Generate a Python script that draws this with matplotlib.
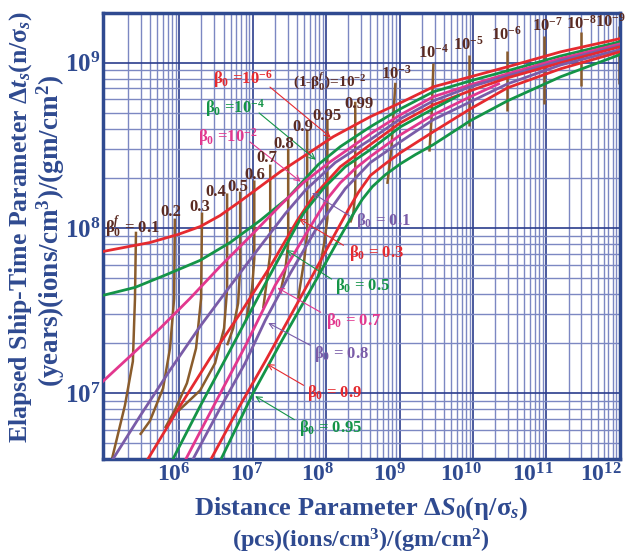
import numpy as np
import matplotlib
matplotlib.use("Agg")
import matplotlib.pyplot as plt
from matplotlib.ticker import LogLocator, NullFormatter
from matplotlib.transforms import offset_copy

plt.rcParams['font.family'] = ['Liberation Serif', 'DejaVu Serif']
plt.rcParams['font.weight'] = 'bold'
plt.rcParams['mathtext.fontset'] = 'custom'
plt.rcParams['mathtext.rm'] = 'Liberation Serif:bold'
plt.rcParams['mathtext.it'] = 'Liberation Serif:bold:italic'
plt.rcParams['mathtext.bf'] = 'Liberation Serif:bold'

NAVY = '#2f4a90'
RED = '#e52a2f'
GREEN = '#149447'
PINK = '#e2378e'
PURPLE = '#7a5ca8'
BROWN = '#8a5c2c'
DARKBROWN = '#5b2b22'

# ---- beta_0 curves: distance parameter vs ship-time parameter ----
ds_b1e6 = [9.1e4, 3.98e5, 9.6e5, 1.92e6, 3.59e6, 6.74e6, 1.26e7, 2.37e7, 4.43e7, 1.25e8,
           4.0e8, 1.03e9, 2.89e9, 9.25e9, 2.96e10, 1.56e11, 1e12]
dt_b1e6 = [7.21e7, 8.17e7, 9.14e7, 1.02e8, 1.19e8, 1.45e8, 1.78e8, 2.19e8, 2.63e8, 3.57e8,
           4.72e8, 5.73e8, 7.16e8, 8.23e8, 9.46e8, 1.165e9, 1.40e9]

ds_b1e4 = [9.1e4, 2.49e5, 6.8e5, 1.92e6, 4.92e6, 1.26e7, 2.95e7, 7.8e7, 1.56e8, 4.0e8,
           1.03e9, 2.89e9, 9.25e9, 2.96e10, 1.56e11, 1e12]
dt_b1e4 = [3.91e7, 4.37e7, 5.24e7, 6.37e7, 8.17e7, 1.11e8, 1.51e8, 2.42e8, 3.11e8, 4.10e8,
           5.27e8, 6.68e8, 7.78e8, 8.95e8, 1.10e9, 1.34e9]

ds_b1e2 = [9.1e4, 2.12e5, 5.46e5, 1.40e6, 3.59e6, 9.2e6, 2.37e7, 4.87e7, 1.14e8, 4.0e8,
           1.03e9, 2.89e9, 9.25e9, 2.96e10, 1.56e11, 1e12]
dt_b1e2 = [1.18e7, 1.67e7, 2.47e7, 3.75e7, 5.85e7, 8.89e7, 1.37e8, 1.88e8, 2.52e8, 3.72e8,
           4.85e8, 6.24e8, 7.36e8, 8.58e8, 1.06e9, 1.30e9]

ds_b01 = [1.25e5, 2.91e5, 7.47e5, 1.92e6, 4.92e6, 1.26e7, 2.77e7, 5.19e7, 1.33e8, 4.0e8,
          1.03e9, 2.89e9, 9.25e9, 2.96e10, 1.56e11, 1e12]
dt_b01 = [4.0e6, 7.26e6, 1.38e7, 2.54e7, 4.45e7, 7.73e7, 1.22e8, 1.69e8, 2.49e8, 3.43e8,
          4.59e8, 5.89e8, 7.16e8, 8.34e8, 1.03e9, 1.27e9]

ds_b03 = [3.74e5, 1.02e6, 2.62e6, 6.74e6, 1.73e7, 4.03e7, 6.67e7, 1.56e8, 4.0e8, 1.03e9,
          2.89e9, 9.25e9, 2.96e10, 1.56e11, 1e12]
dt_b03 = [4.0e6, 8.35e6, 1.63e7, 3.04e7, 5.85e7, 1.11e8, 1.55e8, 2.35e8, 3.20e8, 4.34e8,
          5.57e8, 6.78e8, 8.11e8, 1.0e9, 1.25e9]

ds_b05 = [8.2e5, 1.92e6, 4.92e6, 1.26e7, 2.60e7, 4.87e7, 9.1e7, 1.82e8, 4.0e8, 1.03e9,
          2.89e9, 6.34e9]
dt_b05 = [4.0e6, 8.35e6, 1.82e7, 4.02e7, 7.31e7, 1.22e8, 1.73e8, 2.35e8, 2.98e8, 4.10e8,
          5.27e8, 6.32e8]

ds_b07 = [1.23e6, 3.07e6, 7.87e6, 2.02e7, 4.43e7, 7.1e7, 1.07e8, 1.56e8, 2.49e8, 4.0e8,
          1.03e9, 2.89e9, 9.25e9, 2.23e10]
dt_b07 = [4.0e6, 8.7e6, 1.92e7, 4.50e7, 8.06e7, 1.14e8, 1.53e8, 1.88e8, 2.29e8, 2.71e8,
          3.67e8, 4.85e8, 6.24e8, 7.46e8]

ds_b08 = [1.54e6, 3.59e6, 7.87e6, 1.48e7, 3.24e7, 7.1e7, 1.82e8, 4.0e8, 1.03e9, 2.89e9,
          9.25e9, 2.96e10, 1.56e11, 1e12]
dt_b08 = [4.0e6, 8.1e6, 1.52e7, 2.76e7, 5.31e7, 9.66e7, 1.73e8, 2.49e8, 3.33e8, 4.53e8,
          5.81e8, 7.46e8, 9.7e8, 1.20e9]

ds_b09 = [2.71e6, 6.74e6, 1.48e7, 3.24e7, 7.1e7, 1.33e8, 2.0e8, 2.74e8, 4.0e8, 6.4e8,
          1.03e9, 2.89e9, 9.25e9, 2.96e10, 1.56e11, 1e12]
dt_b09 = [4.0e6, 8.47e6, 1.56e7, 2.92e7, 5.53e7, 9.27e7, 1.29e8, 1.64e8, 2.08e8, 2.45e8,
          2.86e8, 3.83e8, 5.27e8, 7.06e8, 9.2e8, 1.165e9]

ds_b095 = [3.71e6, 1.01e7, 2.37e7, 6.07e7, 1.56e8, 2.27e8, 3.10e8, 4.26e8, 6.4e8, 1.03e9,
           1.64e9, 2.89e9, 9.25e9, 2.96e10, 1.56e11, 1e12]
dt_b095 = [4.0e6, 1.0e7, 2.0e7, 4.19e7, 8.89e7, 1.19e8, 1.49e8, 1.78e8, 2.10e8, 2.45e8,
           2.78e8, 3.20e8, 4.47e8, 5.89e8, 8.23e8, 1.12e9]

# ---- constant final velocity lines (brown) ----
bf01_ds = [2.57e5, 2.49e5, 2.33e5, 1.82e5, 1.21e5]
bf01_dt = [9.5e7, 3.75e7, 1.56e7, 8.47e6, 4.0e6]
bf02_ds = [8.7e5, 8.5e5, 7.47e5, 6.0e5, 3.98e5, 2.91e5]
bf02_dt = [1.14e8, 3.75e7, 1.87e7, 1.07e7, 6.8e6, 5.6e6]
bf03_ds = [2.04e6, 1.98e6, 1.69e6, 1.27e6, 8.7e5, 6.38e5]
bf03_dt = [1.24e8, 3.75e7, 1.87e7, 1.15e7, 7.9e6, 6.15e6]
bf04_ds = [4.48e6, 4.48e6, 4.07e6, 3.07e6, 1.92e6, 9.6e5]
bf04_dt = [1.62e8, 4.3e7, 2.47e7, 1.52e7, 1.04e7, 7.78e6]
bf05_ds = [6.74e6, 6.74e6, 6.32e6, 5.41e6, 4.48e6]
bf05_dt = [1.66e8, 5.7e7, 3.5e7, 2.47e7, 1.95e7]
bf06_ds = [1.05e7, 1.05e7, 9.8e6, 8.1e6]
bf06_dt = [1.94e8, 6.5e7, 4.3e7, 2.76e7]
bf07_ds = [1.73e7, 1.73e7, 1.57e7, 1.39e7]
bf07_dt = [2.42e8, 7.0e7, 4.95e7, 3.27e7]
bf08_ds = [3.04e7, 3.04e7, 2.77e7, 2.37e7]
bf08_dt = [3.02e8, 8.06e7, 5.53e7, 4.07e7]
bf09_ds = [5.52e7, 5.52e7, 5.02e7, 4.16e7]
bf09_dt = [3.94e8, 9.3e7, 6.37e7, 3.75e7]
bf095_ds = [1.04e8, 1.04e8, 9.4e7, 7.8e7]
bf095_dt = [4.53e8, 1.14e8, 8.06e7, 5.1e7]
bf099_ds = [2.49e8, 2.49e8, 2.34e8, 2.13e8]
bf099_dt = [5.81e8, 1.62e8, 1.22e8, 1.08e8]
bf1e3_ds = [8.77e8, 7.73e8, 6.82e8]
bf1e3_dt = [7.57e8, 3.02e8, 1.85e8]
bf1e4_ds = [2.89e9, 2.72e9, 2.55e9]
bf1e4_dt = [9.9e8, 4.59e8, 2.90e8]
bf1e5_ds = [8.69e9, 8.69e9]
bf1e5_dt = [1.12e9, 4.16e8]
bf1e6_ds = [2.86e10, 2.86e10]
bf1e6_dt = [1.18e9, 5.13e8]
bf1e7_ds = [9.2e10, 9.2e10]
bf1e7_dt = [1.46e9, 5.65e8]
bf1e8_ds = [2.93e11, 2.93e11]
bf1e8_dt = [1.54e9, 7.26e8]
bf1e9_ds = [9.66e11, 9.66e11]
bf1e9_dt = [1.67e9, 7.46e8]

x_ticks = [1e6, 1e7, 1e8, 1e9, 1e10, 1e11, 1e12]
x_ticklabels = [r'10$^{%d}$' % e for e in range(6, 13)]
y_ticks = [1e7, 1e8, 1e9]
y_ticklabels = [r'10$^{%d}$' % e for e in range(7, 10)]

fig = plt.figure(figsize=(6.43, 5.56), dpi=100)
ax = fig.add_axes([0.160, 0.1745, 0.804, 0.802])
ax.set_xscale('log')
ax.set_yscale('log')
ax.set_xlim(9.1e4, 1e12)
ax.set_ylim(4e6, 2e9)

ax.xaxis.set_minor_locator(LogLocator(base=10, subs=np.arange(2, 10), numticks=30))
ax.yaxis.set_minor_locator(LogLocator(base=10, subs=np.arange(2, 10), numticks=30))
ax.xaxis.set_minor_formatter(NullFormatter())
ax.yaxis.set_minor_formatter(NullFormatter())
ax.grid(which='major', color='#2b3d8c', lw=1.2, zorder=0)
ax.grid(which='minor', color='#7c88c2', lw=1.0, zorder=0)
ax.set_axisbelow(True)

# brown velocity lines first, coloured curves over them
brown = [(bf01_ds, bf01_dt), (bf02_ds, bf02_dt), (bf03_ds, bf03_dt), (bf04_ds, bf04_dt),
         (bf05_ds, bf05_dt), (bf06_ds, bf06_dt), (bf07_ds, bf07_dt), (bf08_ds, bf08_dt),
         (bf09_ds, bf09_dt), (bf095_ds, bf095_dt), (bf099_ds, bf099_dt),
         (bf1e3_ds, bf1e3_dt), (bf1e4_ds, bf1e4_dt), (bf1e5_ds, bf1e5_dt),
         (bf1e6_ds, bf1e6_dt), (bf1e7_ds, bf1e7_dt), (bf1e8_ds, bf1e8_dt), (bf1e9_ds, bf1e9_dt)]
for xs, ys in brown:
    ax.plot(xs, ys, color=BROWN, lw=1.8, zorder=2, solid_capstyle='butt')

curves = [(ds_b1e6, dt_b1e6, RED), (ds_b1e4, dt_b1e4, GREEN), (ds_b1e2, dt_b1e2, PINK),
          (ds_b01, dt_b01, PURPLE), (ds_b03, dt_b03, RED), (ds_b05, dt_b05, GREEN),
          (ds_b07, dt_b07, PINK), (ds_b08, dt_b08, PURPLE), (ds_b09, dt_b09, RED),
          (ds_b095, dt_b095, GREEN)]
for xs, ys, c in curves:
    ax.plot(xs, ys, color=c, lw=2.0, zorder=3)

# beta_0 labels with arrows (axes fraction)
notes = [(r'β$_0$ =10$^{-6}$', RED, (0.271, 0.852), (0.319, 0.838), (0.445, 0.717)),
         (r'β$_0$ =10$^{-4}$', GREEN, (0.255, 0.787), (0.298, 0.780), (0.416, 0.667)),
         (r'β$_0$ =10$^{-2}$', PINK, (0.242, 0.721), (0.280, 0.715), (0.387, 0.618)),
         (r'β$_0$ = 0.1', PURPLE, (0.542, 0.533), (0.482, 0.542), (0.400, 0.600)),
         (r'β$_0$ = 0.3', RED, (0.530, 0.463), (0.470, 0.476), (0.375, 0.542)),
         (r'β$_0$ = 0.5', GREEN, (0.503, 0.389), (0.447, 0.400), (0.350, 0.472)),
         (r'β$_0$ = 0.7', PINK, (0.486, 0.310), (0.426, 0.326), (0.333, 0.387)),
         (r'β$_0$ = 0.8', PURPLE, (0.462, 0.236), (0.406, 0.252), (0.315, 0.308)),
         (r'β$_0$ = 0.9', RED, (0.449, 0.148), (0.393, 0.162), (0.313, 0.216)),
         (r'β$_0$ = 0.95', GREEN, (0.441, 0.070), (0.375, 0.085), (0.290, 0.144))]
for txt, c, pos, start, end in notes:
    ax.text(pos[0], pos[1], txt, color=c, fontsize=12, ha='center', va='center',
            transform=ax.transAxes, zorder=5)
    ax.annotate('', xy=end, xytext=start, xycoords='axes fraction',
                textcoords='axes fraction',
                arrowprops=dict(arrowstyle='->', color=c, lw=0.8), zorder=5)

# final velocity labels
vel_labels = [(r'β$_0^f$ = 0.1', (0.058, 0.521)), ('0.2', (0.132, 0.553)),
              ('0.3', (0.188, 0.564)), ('0.4', (0.219, 0.598)), ('0.5', (0.261, 0.609)),
              ('0.6', (0.294, 0.636)), ('0.7', (0.317, 0.676)), ('0.8', (0.350, 0.706)),
              ('0.9', (0.387, 0.744)), ('0.95', (0.433, 0.769)), ('0.99', (0.495, 0.795)),
              (r'(1-β$_0^f$)=10$^{-2}$', (0.439, 0.846)), (r'10$^{-3}$', (0.567, 0.863)),
              (r'10$^{-4}$', (0.640, 0.912)), (r'10$^{-5}$', (0.708, 0.930)),
              (r'10$^{-6}$', (0.781, 0.951)), (r'10$^{-7}$', (0.859, 0.971)),
              (r'10$^{-8}$', (0.926, 0.975)), (r'10$^{-9}$', (0.981, 0.980))]
for txt, pos in vel_labels:
    fs = 11 if txt.startswith('(1-') else 12
    ax.text(pos[0], pos[1], txt, color=DARKBROWN, fontsize=fs, ha='center',
            va='center', transform=ax.transAxes, zorder=5)

# tick labels: the decade labels on the x axis sit a little left of their lines
ax.set_xticks(x_ticks)
ax.set_xticklabels([])
x_label_shift = [-5, -6, -8, -10, -12, -14, -19]
for xv, lab, dx in zip(x_ticks, x_ticklabels, x_label_shift):
    tr = offset_copy(ax.get_xaxis_transform(), fig=fig, x=dx, y=0, units='dots')
    ax.text(xv, -0.036, lab, transform=tr, color=NAVY, fontsize=17, ha='center',
            va='center', clip_on=False)
ax.set_yticks(y_ticks)
ax.set_yticklabels(y_ticklabels)
ax.tick_params(which='both', length=0, colors=NAVY, pad=2)
ax.tick_params(axis='y', labelsize=18)

for sp in ax.spines.values():
    sp.set_color(NAVY)
    sp.set_linewidth(2.5)

ax.text(0.5, -0.112, r'Distance Parameter Δ$S_0$(η/σ$_s$)', color=NAVY, fontsize=19,
        ha='center', va='center', transform=ax.transAxes)
ax.text(0.5, -0.183, r'(pcs)(ions/cm$^3$)/(gm/cm$^2$)', color=NAVY, fontsize=17.5,
        ha='center', va='center', transform=ax.transAxes)
ax.text(-0.160, 0.520, r'Elapsed Ship-Time Parameter Δ$t_s$(n/σ$_s$)', color=NAVY,
        fontsize=18.5, ha='center', va='center', rotation=90, transform=ax.transAxes)
ax.text(-0.100, 0.512, r'(years)(ions/cm$^3$)/(gm/cm$^2$)', color=NAVY, fontsize=19.5,
        ha='center', va='center', rotation=90, transform=ax.transAxes)

fig.savefig('out.png', dpi=100)
